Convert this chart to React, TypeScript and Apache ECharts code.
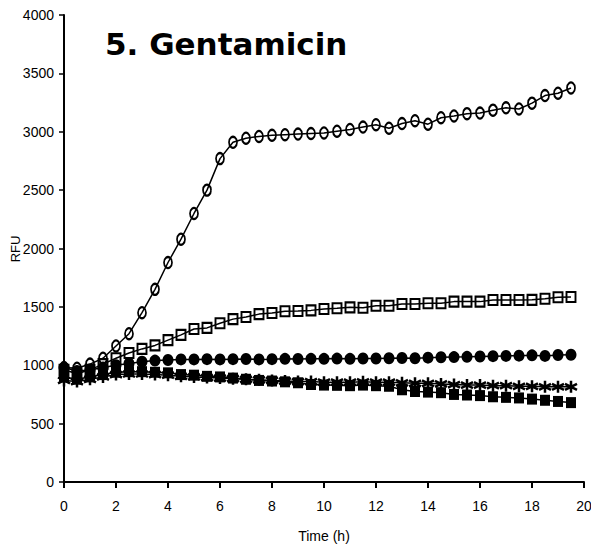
import React, { useEffect, useRef } from "react";
import * as echarts from "echarts";

const times: number[] = Array.from({ length: 40 }, (_, i) => i * 0.5);

const openCircles: number[] = [
  980, 975, 1010, 1060, 1165, 1270, 1450, 1650, 1880, 2080,
  2300, 2500, 2770, 2910, 2945, 2960, 2970, 2975, 2980, 2985,
  2990, 3005, 3020, 3040, 3060, 3030, 3070, 3095, 3065, 3120,
  3135, 3155, 3160, 3185, 3205, 3195, 3245, 3310, 3330, 3375,
];

const openSquares: number[] = [
  960, 930, 960, 1010, 1060, 1105, 1140, 1170, 1215, 1260,
  1310, 1320, 1360, 1395, 1413, 1438, 1448, 1462, 1465, 1470,
  1482, 1488, 1496, 1493, 1510, 1510, 1525, 1525, 1531, 1531,
  1545, 1545, 1545, 1559, 1559, 1559, 1560, 1570, 1582, 1585,
];

const filledCircles: number[] = [
  980, 950, 960, 980, 1000, 1015, 1030, 1040, 1045, 1050,
  1050, 1052, 1050, 1052, 1053, 1050, 1052, 1055, 1053, 1055,
  1055, 1057, 1055, 1058, 1058, 1060, 1062, 1060, 1065, 1068,
  1070, 1072, 1075, 1078, 1080, 1082, 1085, 1080, 1088, 1090,
];

const filledSquares: number[] = [
  900, 880, 900, 920, 940, 945, 945, 940, 935, 920,
  915, 905, 900, 890, 880, 870, 865, 858, 850, 835,
  830, 828, 825, 830, 825, 820, 790, 775, 770, 765,
  750, 745, 740, 730, 725, 720, 710, 700, 690, 680,
];

const asterisks: number[] = [
  870, 860, 880, 900, 920, 925, 925, 920, 915, 905,
  900, 895, 890, 885, 880, 875, 870, 865, 860, 860,
  855, 855, 855, 858, 855, 855, 850, 845, 845, 840,
  835, 830, 830, 825, 825, 820, 820, 815, 815, 815,
];

const yTicks = { min: 0, max: 4000, interval: 500 };
const xTicks = { min: 0, max: 20, interval: 2 };

const TITLE = "5. Gentamicin";
const X_NAME = "Time (h)";
const Y_NAME = "RFU";

const NARROW = "'Liberation Sans Narrow', 'Arial Narrow', 'Liberation Sans', Arial, sans-serif";

const pairs = (ys: number[]) => times.map((t, i) => [t, ys[i]]);

export default function App() {
  const ref = useRef<HTMLDivElement>(null);
  useEffect(() => {
    if (!ref.current) return;
    const chart = echarts.init(ref.current, null, { renderer: "svg" });
    const lineStyle = { color: "#000", width: 1.5 };
    const base = {
      type: "line" as const,
      lineStyle,
      showSymbol: true,
    };
    chart.setOption({
      animation: false,
      backgroundColor: "#fff",
      graphic: [
        {
          type: "text",
          left: 105,
          top: 28,
          style: {
            text: TITLE,
            font: "bold 31px 'DejaVu Sans', sans-serif",
            fill: "#000",
          },
        },
        {
          type: "text",
          x: 15,
          y: 249,
          rotation: Math.PI / 2,
          style: {
            text: Y_NAME,
            font: "13px 'Liberation Sans', Arial, sans-serif",
            fill: "#000",
            align: "center",
            verticalAlign: "middle",
          },
        },
      ],
      grid: {
        left: 64,
        right: 7,
        top: 15,
        bottom: 70,
        containLabel: false,
        outerBoundsMode: "none",
      },
      xAxis: {
        type: "value",
        min: xTicks.min,
        max: xTicks.max,
        interval: xTicks.interval,
        name: X_NAME,
        nameLocation: "middle",
        nameGap: 47,
        nameTextStyle: { fontFamily: NARROW, fontSize: 14, color: "#000" },
        axisLine: { show: true, onZero: false, lineStyle: { color: "#000", width: 2 } },
        axisTick: { show: true, length: 6, lineStyle: { color: "#000", width: 2 } },
        axisLabel: {
          fontFamily: NARROW,
          fontSize: 14,
          color: "#000",
          margin: 17,
          formatter: (v: number) => String(v),
        },
        splitLine: { show: false },
      },
      yAxis: {
        type: "value",
        min: yTicks.min,
        max: yTicks.max,
        interval: yTicks.interval,
        axisLine: { show: true, lineStyle: { color: "#000", width: 2 } },
        axisTick: { show: true, length: 5, lineStyle: { color: "#000", width: 1.5 } },
        axisLabel: {
          fontFamily: NARROW,
          fontSize: 14,
          color: "#000",
          margin: 10,
          formatter: (v: number) => String(v),
        },
        splitLine: { show: false },
      },
      series: [
        {
          ...base,
          name: "asterisk",
          data: pairs(asterisks),
          symbol: "path://M5 0L5 10M0.7 2.5L9.3 7.5M0.7 7.5L9.3 2.5",
          symbolSize: 12,
          itemStyle: { color: "#000", borderColor: "#000", borderWidth: 2.5 },
        },
        {
          ...base,
          name: "filledSquare",
          data: pairs(filledSquares),
          symbol: "rect",
          symbolSize: [10, 11],
          itemStyle: { color: "#000", borderColor: "#000", borderWidth: 0 },
        },
        {
          ...base,
          name: "filledCircle",
          data: pairs(filledCircles),
          symbol: "circle",
          symbolSize: [11, 12],
          itemStyle: { color: "#000", borderColor: "#000", borderWidth: 0 },
        },
        {
          ...base,
          name: "openSquare",
          data: pairs(openSquares),
          symbol: "rect",
          symbolSize: [9, 10],
          itemStyle: { color: "rgba(0,0,0,0)", borderColor: "#000", borderWidth: 2 },
        },
        {
          ...base,
          name: "openCircle",
          data: pairs(openCircles),
          symbol: "circle",
          symbolSize: [8, 11],
          itemStyle: { color: "rgba(0,0,0,0)", borderColor: "#000", borderWidth: 2 },
        },
      ],
    });
    return () => chart.dispose();
  }, []);
  return <div ref={ref} style={{ width: 591, height: 552, position: "absolute", left: 0, top: 0 }} />;
}
